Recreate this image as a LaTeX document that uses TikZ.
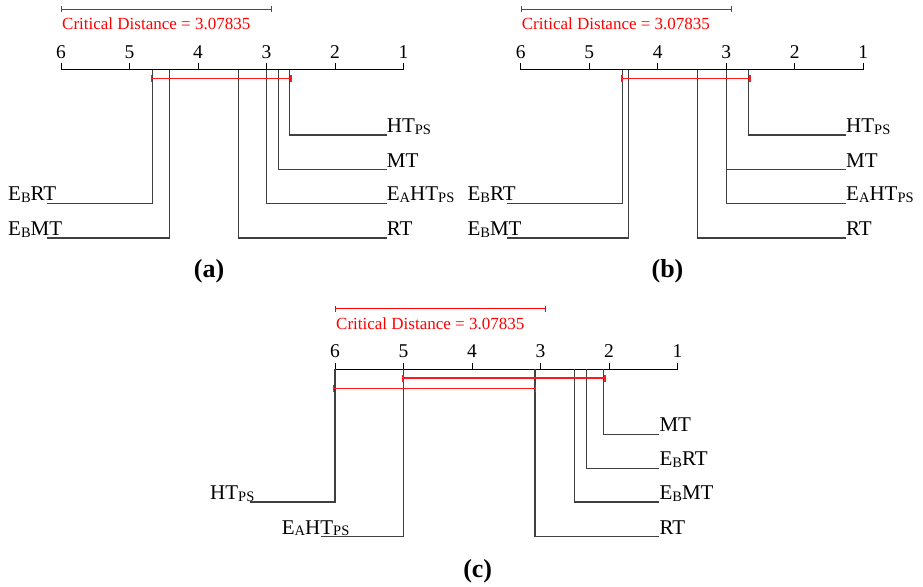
\documentclass[tikz,border=0pt]{standalone}
\usepackage{fontspec}
\setmainfont{Liberation Serif}
\usetikzlibrary{arrows.meta}

\newcommand{\lsub}[1]{\raisebox{-1.6pt}{\fontsize{14.5}{14.5}\selectfont #1}}
\newcommand{\rkunit}{68.5}

\tikzset{
  axisline/.style={line width=0.9pt},
  rankline/.style={black!75, line width=1.1pt},
  cdbar/.style={red, line width=1pt, {Bar[width=6pt]}-{Bar[width=6pt]}},
  clique/.style={red!90, line width=1.5pt, {Bar[width=7pt]}-{Bar[width=7pt]}},
  method/.style={inner sep=0pt, anchor=base west, font=\fontsize{21}{21}\selectfont},
  ticknum/.style={inner sep=0pt, anchor=base, font=\fontsize{19.5}{19.5}\selectfont},
  cdtext/.style={red, inner sep=0pt, anchor=base west, font=\fontsize{17}{17}\selectfont},
  caption/.style={inner sep=0pt, anchor=base, font=\bfseries\fontsize{26}{26}\selectfont}
}

% axis with ticks, numbers and critical distance bar; #1 = panel prefix
\newcommand{\cdaxis}[1]{
  \draw[axisline] (0,0) -- ({5*\rkunit},0);
  \foreach \k in {1,...,6}
    \draw[axisline] ({(6-\k)*\rkunit},0) -- ({(6-\k)*\rkunit},-6.5)
      node[ticknum] (#1-n\k) at ({(6-\k)*\rkunit},-11.4) {\k};
  \coordinate (#1-cd0) at (0,-60.4);
  \coordinate (#1-cd1) at ({3.07835*\rkunit},-60.4);
  \draw[cdbar] (#1-cd0) -- (#1-cd1);
  \node[cdtext] (#1-cdl) at (1,-39.7) {Critical Distance = 3.07835};
}

\begin{document}
\begin{tikzpicture}[x=1pt, y=-1pt]
\useasboundingbox (0,0) rectangle (923,586);

% (a)
\begin{scope}[shift={(61,69.7)}]
  \cdaxis{a}
  \foreach \nm/\r/\y/\lab in {RT/3.41/168.3/RT, EAHTPS/3.0/133.6/{E\lsub{A}HT\lsub{PS}},
      MT/2.83/100/MT, HTPS/2.66/65.3/{HT\lsub{PS}}} {
    \coordinate (a-\nm) at ({(6-\r)*\rkunit},0);
    \coordinate (a-\nm-e) at (325.7,\y);
    \node[method] (a-\nm-l) at ([yshift=2.5pt]a-\nm-e) {\lab};
    \draw[rankline] (a-\nm) |- (a-\nm-e);
  }
  \foreach \nm/\r/\y/\lab in {EBRT/4.665/133.6/{E\lsub{B}RT}, EBMT/4.41/168.3/{E\lsub{B}MT}} {
    \coordinate (a-\nm) at ({(6-\r)*\rkunit},0);
    \coordinate (a-\nm-e) at (-13.7,\y);
    \node[method] (a-\nm-l) at ([yshift=2.5pt]-53,\y) {\lab};
    \draw[rankline] (a-\nm) |- (a-\nm-e);
  }
  \draw[clique] ({(6-4.69)*\rkunit},9) -- ({(6-2.63)*\rkunit},9);
\end{scope}
\node[caption] (capa) at (209,277) {(a)};

% (b)
\begin{scope}[shift={(520.7,69.7)}]
  \cdaxis{b}
  \foreach \nm/\r/\y/\lab in {RT/3.425/168.3/RT, EAHTPS/3.0/133.6/{E\lsub{A}HT\lsub{PS}},
      MT/3.0/100/MT, HTPS/2.67/65.3/{HT\lsub{PS}}} {
    \coordinate (b-\nm) at ({(6-\r)*\rkunit},0);
    \coordinate (b-\nm-e) at (325.3,\y);
    \node[method] (b-\nm-l) at ([yshift=2.5pt]b-\nm-e) {\lab};
    \draw[rankline] (b-\nm) |- (b-\nm-e);
  }
  \foreach \nm/\r/\y/\lab in {EBRT/4.51/133.6/{E\lsub{B}RT}, EBMT/4.42/168.3/{E\lsub{B}MT}} {
    \coordinate (b-\nm) at ({(6-\r)*\rkunit},0);
    \coordinate (b-\nm-e) at (-14,\y);
    \node[method] (b-\nm-l) at ([yshift=2.5pt]-53.4,\y) {\lab};
    \draw[rankline] (b-\nm) |- (b-\nm-e);
  }
  \draw[clique] ({(6-4.53)*\rkunit},9) -- ({(6-2.64)*\rkunit},9);
\end{scope}
\node[caption] (capb) at (667.5,277) {(b)};

% (c)
\begin{scope}[shift={(335,369.3)}]
  \cdaxis{c}
  \foreach \nm/\r/\y/\lab in {RT/3.08/167.4/RT, EBMT/2.5/132.7/{E\lsub{B}MT},
      EBRT/2.325/99/{E\lsub{B}RT}, MT/2.075/65/MT} {
    \coordinate (c-\nm) at ({(6-\r)*\rkunit},0);
    \coordinate (c-\nm-e) at (324.3,\y);
    \node[method] (c-\nm-l) at ([yshift=2.5pt]c-\nm-e) {\lab};
    \draw[rankline] (c-\nm) |- (c-\nm-e);
  }
  \foreach \nm/\r/\y/\ex/\lx/\lab in {HTPS/6.0/132.7/-85/-125/{HT\lsub{PS}},
      EAHTPS/5.0/167.4/-14/-53.3/{E\lsub{A}HT\lsub{PS}}} {
    \coordinate (c-\nm) at ({(6-\r)*\rkunit},0);
    \coordinate (c-\nm-e) at (\ex,\y);
    \node[method] (c-\nm-l) at ([yshift=2.5pt]\lx,\y) {\lab};
    \draw[rankline] (c-\nm) |- (c-\nm-e);
  }
  \draw[clique] ({(6-5.02)*\rkunit},8.7) -- ({(6-2.05)*\rkunit},8.7);
  \draw[clique] ({(6-6.03)*\rkunit},19) -- ({(6-3.06)*\rkunit},19);
\end{scope}
\node[caption] (capc) at (477.7,577) {(c)};

\end{tikzpicture}
\end{document}
